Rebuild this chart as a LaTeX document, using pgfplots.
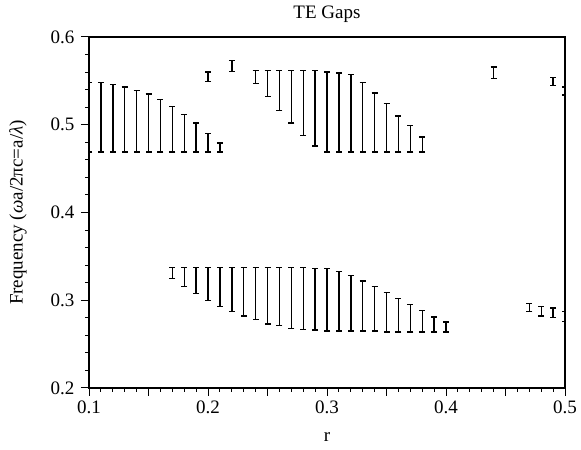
\documentclass[border=0pt]{standalone}
\usepackage{fontspec}
\setmainfont{Liberation Serif}
\usepackage{pgfplots}
\pgfplotsset{compat=1.18}
\usepackage{pgfplotstable}
\pgfplotstableread{
r lo hi
0.10 0.469 0.548
0.11 0.469 0.548
0.12 0.469 0.546
0.13 0.469 0.543
0.14 0.469 0.539
0.15 0.469 0.535
0.16 0.469 0.529
0.17 0.469 0.521
0.18 0.469 0.512
0.19 0.469 0.502
0.20 0.469 0.490
0.21 0.469 0.479
0.20 0.549 0.560
0.22 0.561 0.573
0.24 0.547 0.562
0.25 0.532 0.562
0.26 0.516 0.562
0.27 0.502 0.562
0.28 0.488 0.562
0.29 0.476 0.562
0.30 0.469 0.560
0.31 0.469 0.559
0.32 0.469 0.557
0.33 0.469 0.548
0.34 0.469 0.536
0.35 0.469 0.524
0.36 0.469 0.510
0.37 0.469 0.499
0.38 0.469 0.486
0.44 0.553 0.566
0.49 0.545 0.554
0.50 0.534 0.543
}\gapsupper
\pgfplotstableread{
r lo hi
0.17 0.325 0.337
0.18 0.316 0.337
0.19 0.308 0.337
0.20 0.300 0.337
0.21 0.293 0.337
0.22 0.287 0.337
0.23 0.282 0.337
0.24 0.278 0.337
0.25 0.273 0.337
0.26 0.271 0.337
0.27 0.268 0.337
0.28 0.267 0.337
0.29 0.266 0.336
0.30 0.265 0.336
0.31 0.265 0.333
0.32 0.265 0.328
0.33 0.265 0.322
0.34 0.265 0.316
0.35 0.264 0.309
0.36 0.264 0.302
0.37 0.264 0.295
0.38 0.264 0.288
0.39 0.264 0.281
0.40 0.264 0.275
0.47 0.287 0.2965
0.48 0.282 0.293
0.49 0.280 0.291
0.50 0.276 0.287
}\gapslower
\begin{document}
\begin{tikzpicture}
\begin{axis}[
 name=main,
 scale only axis, width=476pt, height=351pt,
 xmin=0.1, xmax=0.5, ymin=0.2, ymax=0.6,
 xtick={0.1,0.15,0.2,0.25,0.3,0.35,0.4,0.45,0.5},
 xticklabels={0.1,,0.2,,0.3,,0.4,,0.5},
 minor x tick num=4,
 ytick={0.2,0.3,0.4,0.5,0.6},
 yticklabels={0.2,0.3,0.4,0.5,0.6},
 minor y tick num=4,
 tick align=outside, xtick pos=lower, ytick pos=left,
 major tick length=8pt, minor tick length=4pt,
 title={TE Gaps}, xlabel={r}, ylabel={Frequency (\textit{ω}a/2πc=a/\textit{λ})},
 font=\fontsize{19}{22}\selectfont,
 yticklabel style={xshift=-3pt},
 xticklabel style={yshift=-1pt},
 every axis title/.style={at={(axis description cs:0.5,1.0655)}, anchor=center},
 every axis x label/.style={at={(axis description cs:0.5,-0.1396)}, anchor=center},
 every axis y label/.style={at={(axis description cs:-0.149,0.5)}, anchor=center, rotate=90},
 axis line style={line width=1.2pt},
 tick style={line width=1pt, black},
 error bars/error bar style={draw=black, line width=1.4pt},
 error bars/error mark options={draw=black, line width=1.4pt, mark size=3pt, rotate=90},
]
\addplot[draw=none, mark=none, error bars/.cd, y dir=both, y explicit]
 table[x=r, y expr={(\thisrow{lo}+\thisrow{hi})/2}, y error expr={(\thisrow{hi}-\thisrow{lo})/2}] {\gapsupper};
\addplot[draw=none, mark=none, error bars/.cd, y dir=both, y explicit]
 table[x=r, y expr={(\thisrow{lo}+\thisrow{hi})/2}, y error expr={(\thisrow{hi}-\thisrow{lo})/2}] {\gapslower};
\end{axis}
\pgfresetboundingbox
\useasboundingbox ([shift={(-89pt,-62pt)}]main.south west) rectangle ([shift={(16pt,37pt)}]main.north east);
\end{tikzpicture}
\end{document}
